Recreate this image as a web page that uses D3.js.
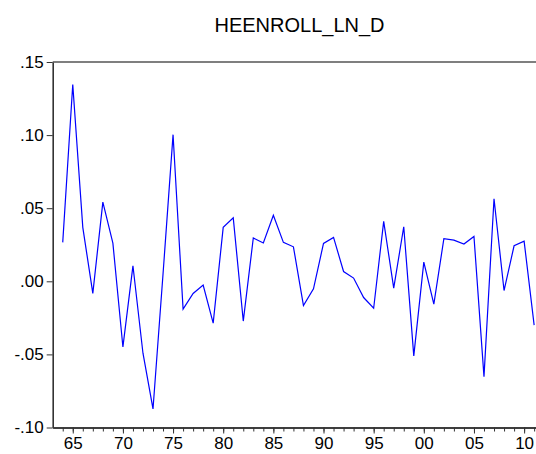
<!DOCTYPE html>
<html>
<head>
<meta charset="utf-8">
<script src="https://cdn.jsdelivr.net/npm/d3@7"></script>
<style>
  body { margin: 0; background: #fff; }
  svg { display: block; font-family: Arial, "Liberation Sans", sans-serif; }
</style>
</head>
<body>
<div id="chart"></div>
<script>
// Series: annual log-difference, 1964-2011
const years = [1964, 1965, 1966, 1967, 1968, 1969, 1970, 1971, 1972, 1973,
    1974, 1975, 1976, 1977, 1978, 1979, 1980, 1981, 1982, 1983,
    1984, 1985, 1986, 1987, 1988, 1989, 1990, 1991, 1992, 1993,
    1994, 1995, 1996, 1997, 1998, 1999, 2000, 2001, 2002, 2003,
    2004, 2005, 2006, 2007, 2008, 2009, 2010, 2011];
const values = [0.0266, 0.1346, 0.0369, -0.0083, 0.0542, 0.0261, -0.0449, 0.0106, -0.0492, -0.0873,
    0.0050, 0.1003, -0.0190, -0.0083, -0.0026, -0.0286, 0.0369, 0.0435, -0.0272, 0.0296,
    0.0262, 0.0451, 0.0266, 0.0236, -0.0166, -0.0051, 0.0259, 0.0300, 0.0067, 0.0022,
    -0.0111, -0.0184, 0.0410, -0.0047, 0.0373, -0.0510, 0.0131, -0.0156, 0.0291, 0.0282,
    0.0255, 0.0307, -0.0652, 0.0565, -0.0063, 0.0243, 0.0275, -0.0300];

// Tick values and labels
const yTickValues = [0.15, 0.10, 0.05, 0.00, -0.05, -0.10];
const yTickLabels = [".15", ".10", ".05", ".00", "-.05", "-.10"];
const xMajorYears = [1965, 1970, 1975, 1980, 1985, 1990, 1995, 2000, 2005, 2010];
const xMajorLabels = ["65", "70", "75", "80", "85", "90", "95", "00", "05", "10"];
const xMinorYears = [1964, 1965, 1966, 1967, 1968, 1969, 1970, 1971, 1972, 1973,
    1974, 1975, 1976, 1977, 1978, 1979, 1980, 1981, 1982, 1983,
    1984, 1985, 1986, 1987, 1988, 1989, 1990, 1991, 1992, 1993,
    1994, 1995, 1996, 1997, 1998, 1999, 2000, 2001, 2002, 2003,
    2004, 2005, 2006, 2007, 2008, 2009, 2010, 2011, 2012];

const title = "HEENROLL_LN_D";

const W = 536, H = 454;
const margin = { top: 62, left: 52.7, bottom: 26.5 };
const plotRight = 554.2; // plot runs past the window edge

const svg = d3.select("#chart")
    .append("svg")
    .attr("width", W)
    .attr("height", H);

const x = d3.scaleLinear()
    .domain([1963, 2013])
    .range([margin.left, plotRight]);

const y = d3.scaleLinear()
    .domain([-0.10, 0.15])
    .range([H - margin.bottom, margin.top]);

// Title
svg.append("text")
    .attr("x", 299.5)
    .attr("y", 32.3)
    .attr("text-anchor", "middle")
    .attr("font-size", 20)
    .attr("fill", "#000")
    .text(title);

// Top border
svg.append("line")
    .attr("x1", margin.left).attr("x2", plotRight)
    .attr("y1", y(0.15)).attr("y2", y(0.15))
    .attr("stroke", "#000")
    .attr("stroke-width", 1.2);

// Y axis
const yAxis = svg.append("g")
    .attr("transform", `translate(${margin.left},0)`)
    .call(d3.axisLeft(y)
        .tickValues(yTickValues)
        .tickFormat((d, i) => yTickLabels[i])
        .tickSize(6)
        .tickPadding(3)
        .tickSizeOuter(0));

// X axis: minor ticks every year, major ticks with labels
const xMinor = svg.append("g")
    .attr("transform", `translate(0,${y(-0.10)})`)
    .call(d3.axisBottom(x)
        .tickValues(xMinorYears)
        .tickFormat("")
        .tickSize(4)
        .tickSizeOuter(0));

const xMajor = svg.append("g")
    .attr("transform", `translate(0,${y(-0.10)})`)
    .call(d3.axisBottom(x)
        .tickValues(xMajorYears)
        .tickFormat((d, i) => xMajorLabels[i])
        .tickSize(6)
        .tickPadding(3)
        .tickSizeOuter(0));

[yAxis, xMinor, xMajor].forEach(g => {
    g.select(".domain").attr("stroke", "#333").attr("stroke-width", 1.6);
    g.selectAll(".tick line").attr("stroke", "#333").attr("stroke-width", 1);
    g.selectAll(".tick text")
        .attr("font-size", 17)
        .attr("fill", "#000")
        .attr("font-family", "Arial, 'Liberation Sans', sans-serif");
});

// The series line
const line = d3.line()
    .x((d, i) => x(years[i]))
    .y(d => y(d));

svg.append("path")
    .datum(values)
    .attr("fill", "none")
    .attr("stroke", "#0000ff")
    .attr("stroke-width", 1.2)
    .attr("stroke-linejoin", "miter")
    .attr("d", line);
</script>
</body>
</html>
